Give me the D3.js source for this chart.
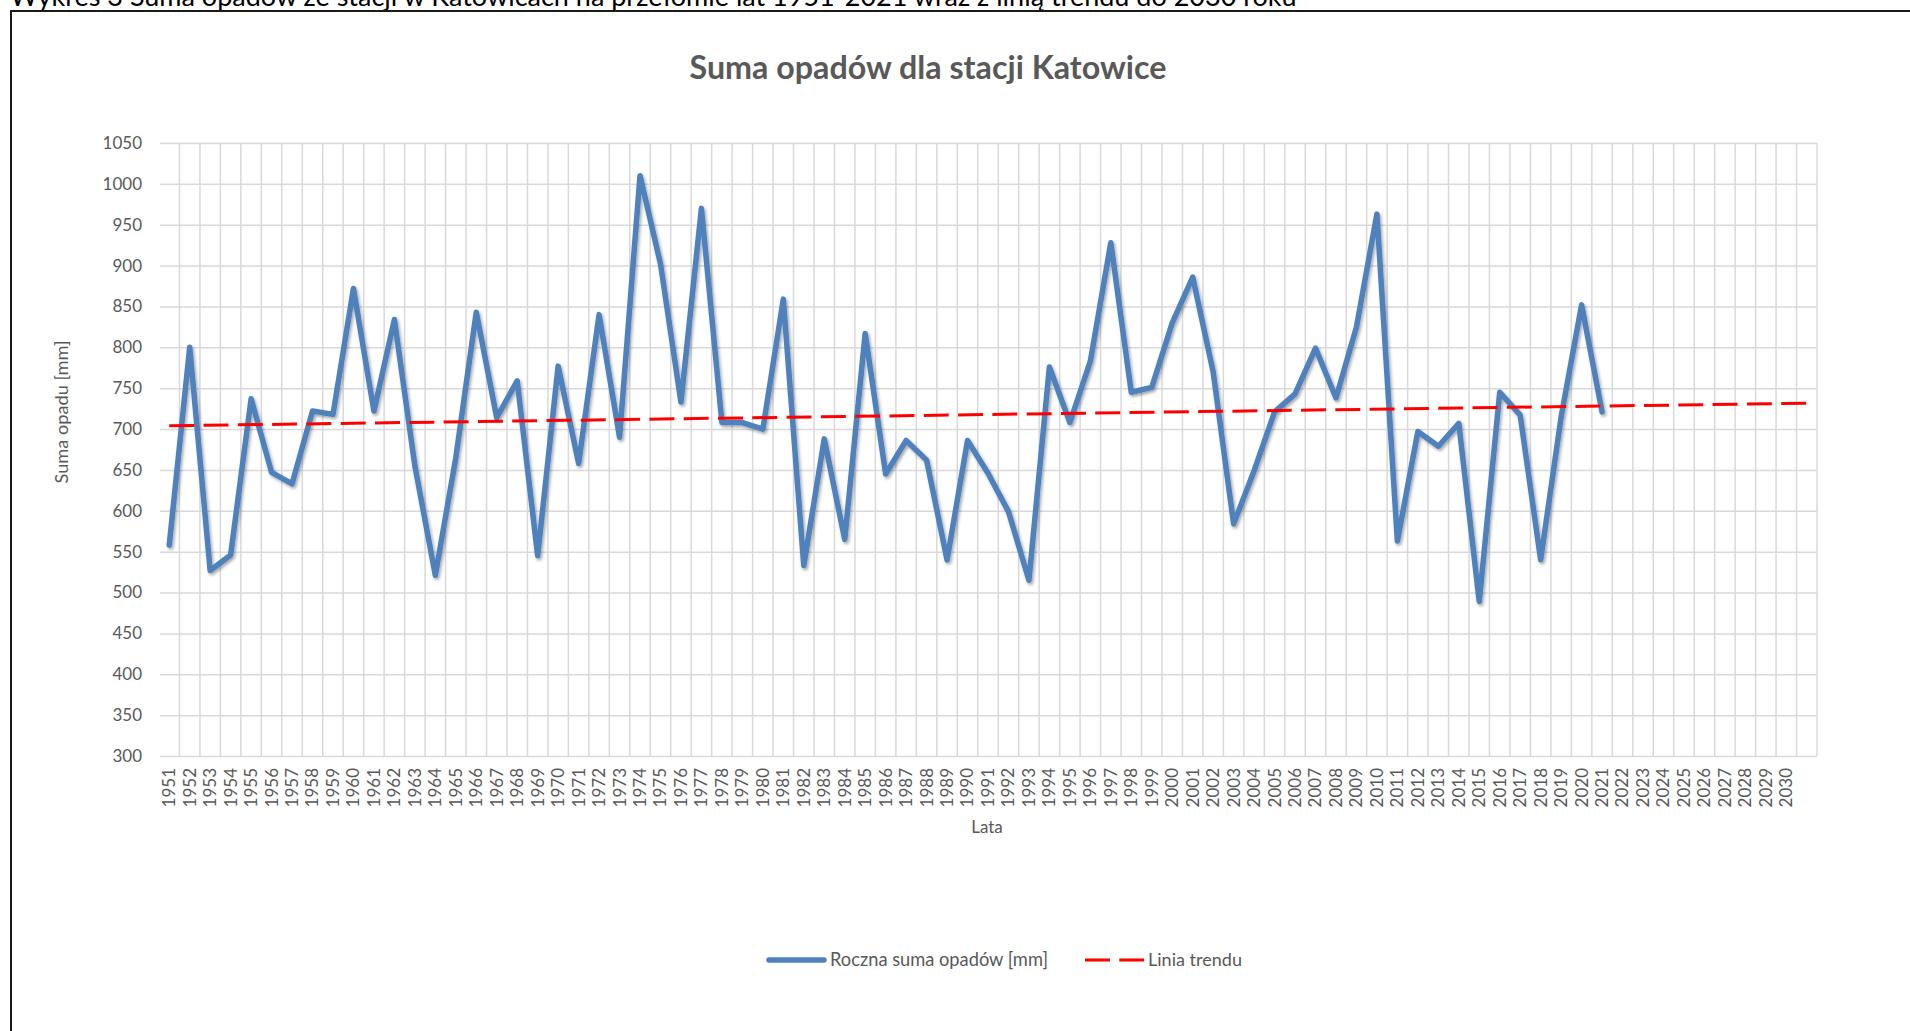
<!DOCTYPE html>
<html lang="pl">
<head>
<meta charset="utf-8">
<title>Suma opadów dla stacji Katowice</title>
<script src="https://cdn.jsdelivr.net/npm/d3@7"></script>
<style>
  html, body { margin: 0; padding: 0; background: #fff; overflow: hidden; }
  svg { display: block; font-family: Lato, "Open Sans", sans-serif; }
</style>
</head>
<body>
<svg id="chart" width="1910" height="1031"></svg>
<script>
// Annual precipitation totals, Katowice station, 1951–2021 [mm]
const years = d3.range(1951, 2022);
const precipitation = [
  558, 800, 527, 546, 737, 647, 633, 722, 718, 872,
  722, 834, 655, 521, 665, 843, 714, 759, 545, 777,
  658, 840, 690, 1010, 902, 733, 970, 708, 708, 700,
  859, 533, 688, 565, 817, 645, 686, 662, 540, 686,
  646, 599, 515, 776, 708, 783, 928, 745, 751, 830,
  886, 770, 584, 649, 721, 743, 799, 738, 825, 963,
  563, 697, 679, 707, 489, 745, 717, 540, 715, 852,
  721
];

// Category slots on the x axis: 1951–2030 labelled, plus one trailing empty slot
const slotYears = d3.range(1951, 2032);
const lastLabelledYear = 2030;

// Linear trend line, start and end of the forecast
const trendYears = [1951, 2031];
const trendValues = [704, 731.6];

// Value axis ticks
const yTicks = d3.range(300, 1051, 50);

const caption = "Wykres 3 Suma opadów ze stacji w Katowicach na przełomie lat 1951-2021 wraz z linią trendu do 2030 roku";
const chartTitle = "Suma opadów dla stacji Katowice";
const yTitle = "Suma opadu [mm]";
const xTitle = "Lata";
const seriesNames = ["Roczna suma opadów [mm]", "Linia trendu"];

const textColor = "#595959";
const gridColor = "#d9d9d9";
const blue = "#4f81bd";
const red = "#ff0000";

const svg = d3.select("#chart");

// Scale a text element's font size so its rendered width equals the target
function fitWidth(sel, target) {
  const node = sel.node();
  const fs = parseFloat(sel.attr("font-size"));
  const w = node.getComputedTextLength();
  if (w > 0) sel.attr("font-size", (fs * target / w).toFixed(2));
  return sel;
}

// Document caption above the framed chart (partly outside the view)
fitWidth(svg.append("text")
  .attr("x", 10).attr("y", 6)
  .attr("font-size", 27).attr("fill", "#000")
  .text(caption), 1287);

// Frame around the chart object
svg.append("rect")
  .attr("x", 11).attr("y", 11)
  .attr("width", 2000).attr("height", 1100)
  .attr("fill", "none").attr("stroke", "#1a1a1a").attr("stroke-width", 2);

// Plot geometry
const plot = { left: 159, right: 1817, top: 143, bottom: 756 };

const x = d3.scaleBand()
  .domain(slotYears)
  .range([plot.left, plot.right])
  .paddingInner(0).paddingOuter(0);
const xc = yr => x(yr) + x.bandwidth() / 2;

const y = d3.scaleLinear()
  .domain([300, 1050])
  .range([plot.bottom, plot.top]);

// Horizontal gridlines
const hGrid = svg.append("g")
  .attr("transform", `translate(${plot.left + 1},0)`)
  .call(d3.axisLeft(y).tickValues(yTicks).tickSize(-(plot.right - plot.left - 1)).tickFormat(""));
hGrid.select(".domain").remove();
hGrid.selectAll("line").attr("stroke", gridColor).attr("stroke-width", 1.5);

// Vertical gridlines on category boundaries
svg.append("g").selectAll("line")
  .data(slotYears)
  .join("line")
  .attr("x1", d => x(d) + x.bandwidth())
  .attr("x2", d => x(d) + x.bandwidth())
  .attr("y1", plot.top).attr("y2", plot.bottom)
  .attr("stroke", gridColor).attr("stroke-width", 1.5);

// Y axis labels
const yAxis = svg.append("g")
  .attr("transform", `translate(${plot.left},0)`)
  .call(d3.axisLeft(y).tickValues(yTicks).tickSize(0).tickPadding(17).tickFormat(d3.format("d")));
yAxis.select(".domain").remove();
yAxis.selectAll("text")
  .attr("font-family", "Lato").attr("font-size", 17).attr("fill", textColor);

// X axis labels, rotated
const xAxis = svg.append("g")
  .attr("transform", `translate(0,${plot.bottom})`)
  .call(d3.axisBottom(x).tickSize(0).tickFormat(d => d <= lastLabelledYear ? String(d) : ""));
xAxis.select(".domain").remove();
xAxis.selectAll("text")
  .attr("font-family", "Lato").attr("font-size", 17).attr("fill", textColor)
  .attr("transform", "rotate(-90)")
  .attr("text-anchor", "end")
  .attr("x", -12).attr("y", 0).attr("dy", "0.35em");

// Shadow for the precipitation line
const defs = svg.append("defs");
defs.append("filter").attr("id", "lineShadow")
  .attr("x", "-5%").attr("y", "-5%").attr("width", "110%").attr("height", "110%")
  .append("feDropShadow")
  .attr("dx", 1.5).attr("dy", 2).attr("stdDeviation", 1.6)
  .attr("flood-color", "#000").attr("flood-opacity", 0.35);

// Precipitation series
const line = d3.line().x((d, i) => xc(years[i])).y(d => y(d));
svg.append("path")
  .datum(precipitation)
  .attr("d", line)
  .attr("fill", "none")
  .attr("stroke", blue).attr("stroke-width", 5.5)
  .attr("stroke-linejoin", "round").attr("stroke-linecap", "round")
  .attr("filter", "url(#lineShadow)");

// Trend line
const trendLine = d3.line().x((d, i) => xc(trendYears[i])).y(d => y(d));
svg.append("path")
  .datum(trendValues)
  .attr("d", trendLine)
  .attr("fill", "none")
  .attr("stroke", red).attr("stroke-width", 3)
  .attr("stroke-dasharray", "25,9.3");

// Chart title
fitWidth(svg.append("text")
  .attr("x", 928).attr("y", 79)
  .attr("text-anchor", "middle")
  .attr("font-size", 28).attr("font-weight", 700).attr("fill", textColor)
  .text(chartTitle), 477);

// Axis titles
fitWidth(svg.append("text")
  .attr("transform", "translate(62,412) rotate(-90)")
  .attr("text-anchor", "middle").attr("dy", "0.35em")
  .attr("font-size", 17).attr("fill", textColor)
  .text(yTitle), 143);

svg.append("text")
  .attr("x", 987).attr("y", 827)
  .attr("text-anchor", "middle").attr("dy", "0.35em")
  .attr("font-size", 17).attr("fill", textColor)
  .text(xTitle);

// Legend
const legendY = 960;
const legend = svg.append("g");
legend.append("line")
  .attr("x1", 769).attr("x2", 824).attr("y1", legendY).attr("y2", legendY)
  .attr("stroke", blue).attr("stroke-width", 5.5).attr("stroke-linecap", "round");
fitWidth(legend.append("text")
  .attr("x", 830).attr("y", legendY).attr("dy", "0.35em")
  .attr("font-size", 17).attr("fill", textColor)
  .text(seriesNames[0]), 218);
legend.append("line")
  .attr("x1", 1085).attr("x2", 1144).attr("y1", legendY).attr("y2", legendY)
  .attr("stroke", red).attr("stroke-width", 3)
  .attr("stroke-dasharray", "25,9.3");
fitWidth(legend.append("text")
  .attr("x", 1148).attr("y", legendY).attr("dy", "0.35em")
  .attr("font-size", 17).attr("fill", textColor)
  .text(seriesNames[1]), 94);
</script>
</body>
</html>
